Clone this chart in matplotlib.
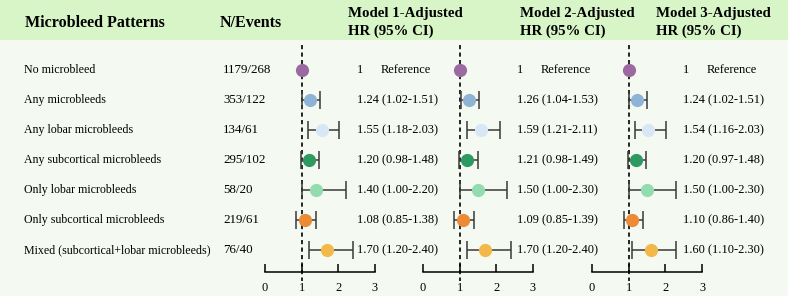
import matplotlib.pyplot as plt
import numpy as np

plt.rcParams['font.family'] = ['Liberation Serif', 'DejaVu Serif']

# data
patterns = ['No microbleed', 'Any microbleeds', 'Any lobar microbleeds',
            'Any subcortical microbleeds', 'Only lobar microbleeds',
            'Only subcortical microbleeds', 'Mixed (subcortical+lobar microbleeds)']
n_events = ['1179/268', '353/122', '134/61', '295/102', '58/20', '219/61', '76/40']

hr1 = [1.00, 1.24, 1.55, 1.20, 1.40, 1.08, 1.70]
lo1 = [np.nan, 1.02, 1.18, 0.98, 1.00, 0.85, 1.20]
hi1 = [np.nan, 1.51, 2.03, 1.48, 2.20, 1.38, 2.40]

hr2 = [1.00, 1.26, 1.59, 1.21, 1.50, 1.09, 1.70]
lo2 = [np.nan, 1.04, 1.21, 0.98, 1.00, 0.85, 1.20]
hi2 = [np.nan, 1.53, 2.11, 1.49, 2.30, 1.39, 2.40]

hr3 = [1.00, 1.24, 1.54, 1.20, 1.50, 1.10, 1.60]
lo3 = [np.nan, 1.02, 1.16, 0.97, 1.00, 0.86, 1.10]
hi3 = [np.nan, 1.51, 2.03, 1.48, 2.30, 1.40, 2.30]

models = ['Model 1-Adjusted', 'Model 2-Adjusted', 'Model 3-Adjusted']
ticks = [0, 1, 2, 3]

colors = ['#9b6aa0', '#8fb3d4', '#d8e7f6', '#2e9960', '#93dcb0', '#ec8a35', '#f2b84a']

W, H = 788, 296
fig = plt.figure(figsize=(W / 100, H / 100), dpi=100)
fig.patch.set_facecolor('#f4faf2')

# background / text layer in pixel coordinates
bg = fig.add_axes([0, 0, 1, 1])
bg.set_xlim(0, W)
bg.set_ylim(H, 0)
bg.axis('off')
bg.add_patch(plt.Rectangle((0, 0), W, 40, color='#d8f5c8', lw=0))

row_y = 70 + 30 * np.arange(len(patterns))
lfs = 8.6   # row labels
fs = 8.9    # numbers
hfs = 11.5
mfs = 10.7

bg.text(25, 23, 'Microbleed Patterns', fontsize=hfs, fontweight='bold', va='center')
bg.text(220, 23, 'N/Events', fontsize=hfs, fontweight='bold', va='center')
head_x = [348, 520, 656]
for m, hx in zip(models, head_x):
    bg.text(hx, 14, m, fontsize=mfs, fontweight='bold', va='center')
    bg.text(hx, 31, 'HR (95% CI)', fontsize=mfs, fontweight='bold', va='center')

for y, p, n in zip(row_y, patterns, n_events):
    bg.text(24, y, p, fontsize=lfs, va='center')
    bg.text(223, y, n, fontsize=9.4, va='center')

# forest panels
ax_left = [265, 423, 592]
txt_x = [357, 517, 683]
series = [(hr1, lo1, hi1), (hr2, lo2, hi2), (hr3, lo3, hi3)]
top_px, bot_px = 45, 272
for axl, tx, (hr, lo, hi) in zip(ax_left, txt_x, series):
    ax = fig.add_axes([axl / W, 1 - bot_px / H, 110 / W, (bot_px - top_px) / H])
    ax.patch.set_alpha(0)
    ax.set_xlim(0, 3)
    y_bot = (bot_px - 70) / 30
    y_top = (top_px - 70) / 30
    ax.set_ylim(y_bot, y_top)
    ax.plot([1, 1], [y_top, y_bot + 0.3], color='black', ls=(0, (2.5, 2)),
            lw=1.2, zorder=1, clip_on=False)
    for i in range(len(hr)):
        if not np.isnan(lo[i]):
            ax.errorbar(hr[i], i, xerr=[[hr[i] - lo[i]], [hi[i] - hr[i]]],
                        fmt='none', ecolor='#3a3a3a', elinewidth=1.1,
                        capsize=6.5, capthick=1.1, zorder=2)
        ax.plot(hr[i], i, 'o', color=colors[i], ms=9.5, mec='none', zorder=3)
    for s in ['top', 'right', 'left']:
        ax.spines[s].set_visible(False)
    ax.spines['bottom'].set_linewidth(1.1)
    ax.set_yticks([])
    ax.set_xticks(ticks)
    ax.tick_params(axis='x', direction='in', length=6, width=1.1,
                   labelsize=fs, pad=7)
    for c in ax.get_children():
        c.set_clip_on(False)

    for i, y in enumerate(row_y):
        if np.isnan(lo[i]):
            bg.text(tx, y, '1', fontsize=fs, va='center')
            bg.text(tx + 24, y, 'Reference', fontsize=fs, va='center')
        else:
            bg.text(tx, y, f'{hr[i]:.2f} ({lo[i]:.2f}-{hi[i]:.2f})',
                    fontsize=fs, va='center')

fig.savefig('out.png', dpi=100, facecolor=fig.get_facecolor())
